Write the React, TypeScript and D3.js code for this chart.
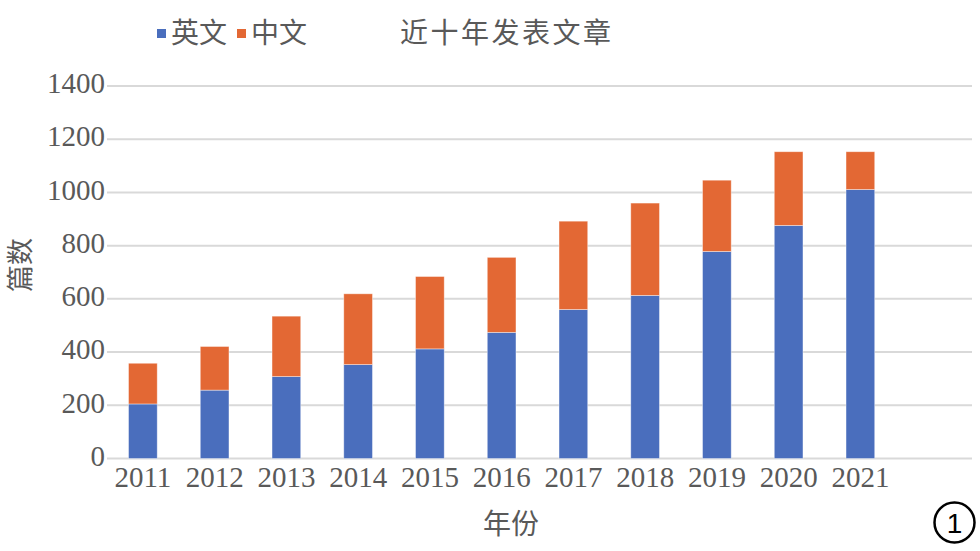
import React from "react";
import * as d3 from "d3";

const years = ["2011", "2012", "2013", "2014", "2015", "2016", "2017", "2018", "2019", "2020", "2021"];
const english = [205, 257, 308, 353, 412, 474, 560, 613, 778, 876, 1011];
const chinese = [153, 164, 227, 266, 272, 282, 332, 347, 268, 277, 142];
const yTicks = [0, 200, 400, 600, 800, 1000, 1200, 1400];
const seriesNames = ["英文", "中文"];
const colors = ["#4A6EBD", "#E36834"];

const W = 980;
const H = 551;
const left = 107;
const step = 71.75;
const gridRight = 972;

export default function App() {
  const x = d3
    .scaleBand<string>()
    .domain(years)
    .range([left, left + step * years.length])
    .paddingInner(0.6)
    .paddingOuter(0.3);
  const y = d3.scaleLinear().domain([0, 1400]).range([458.5, 86]);

  const rows = years.map((yr, i) => ({ year: yr, en: english[i], zh: chinese[i] }));
  const stack = d3.stack<any>().keys(["en", "zh"])(rows);

  const serif = "'Liberation Serif', 'Times New Roman', serif";
  const cjk = "'Noto Sans CJK SC', 'Noto Sans CJK JP', sans-serif";
  const textColor = "#595959";

  return (
    <svg width={W} height={H} style={{ position: "absolute", left: 0, top: 0, background: "#fff" }}>
      <rect x={0} y={0} width={W} height={H} fill="#fff" />
      {/* gridlines */}
      {yTicks.map((t) => (
        <line key={t} x1={left} x2={gridRight} y1={y(t)} y2={y(t)} stroke="#d9d9d9" strokeWidth={2} />
      ))}
      {/* bars */}
      {stack.map((s, si) => (
        <g key={si}>
          {s.map((d: any, i: number) => (
            <rect
              key={i}
              x={x(years[i])}
              width={x.bandwidth()}
              y={y(d[1])}
              height={y(d[0]) - y(d[1])}
              fill={colors[si]}
              stroke="#ffffff"
              strokeOpacity={0.5}
              strokeWidth={0.8}
            />
          ))}
        </g>
      ))}
      {/* y tick labels */}
      {yTicks.map((t) => (
        <text
          key={t}
          x={105}
          y={y(t)}
          dy="0.25em"
          textAnchor="end"
          fontFamily={serif}
          fontSize={29}
          fill={textColor}
        >
          {t}
        </text>
      ))}
      {/* x tick labels */}
      {years.map((yr) => (
        <text
          key={yr}
          x={(x(yr) as number) + x.bandwidth() / 2}
          y={487}
          textAnchor="middle"
          fontFamily={serif}
          fontSize={29}
          fill={textColor}
        >
          {yr}
        </text>
      ))}
      {/* axis titles */}
      <text
        transform="translate(30,265) rotate(-90)"
        textAnchor="middle"
        fontFamily={cjk}
        fontSize={27}
        fill={textColor}
      >
        篇数
      </text>
      <text x={511} y={534} textAnchor="middle" fontFamily={cjk} fontSize={28} fill={textColor}>
        年份
      </text>
      {/* legend */}
      {seriesNames.map((n, i) => (
        <g key={n} transform={`translate(${157 + i * 80},0)`}>
          <rect x={0} y={29} width={9} height={9} fill={colors[i]} />
          <text x={14} y={43} fontFamily={cjk} fontSize={28} fill={textColor}>
            {n}
          </text>
        </g>
      ))}
      <text x={400} y={43} fontFamily={cjk} fontSize={28} letterSpacing={2.5} fill={textColor}>
        近十年发表文章
      </text>
      {/* circled marker */}
      <circle cx={954.5} cy={522.5} r={20} fill="none" stroke="#000" strokeWidth={2.5} />
      <text
        x={954.5}
        y={523}
        dy="0.36em"
        textAnchor="middle"
        fontFamily="'Liberation Sans', Arial, sans-serif"
        fontSize={28}
        fill="#000"
      >
        1
      </text>
    </svg>
  );
}
